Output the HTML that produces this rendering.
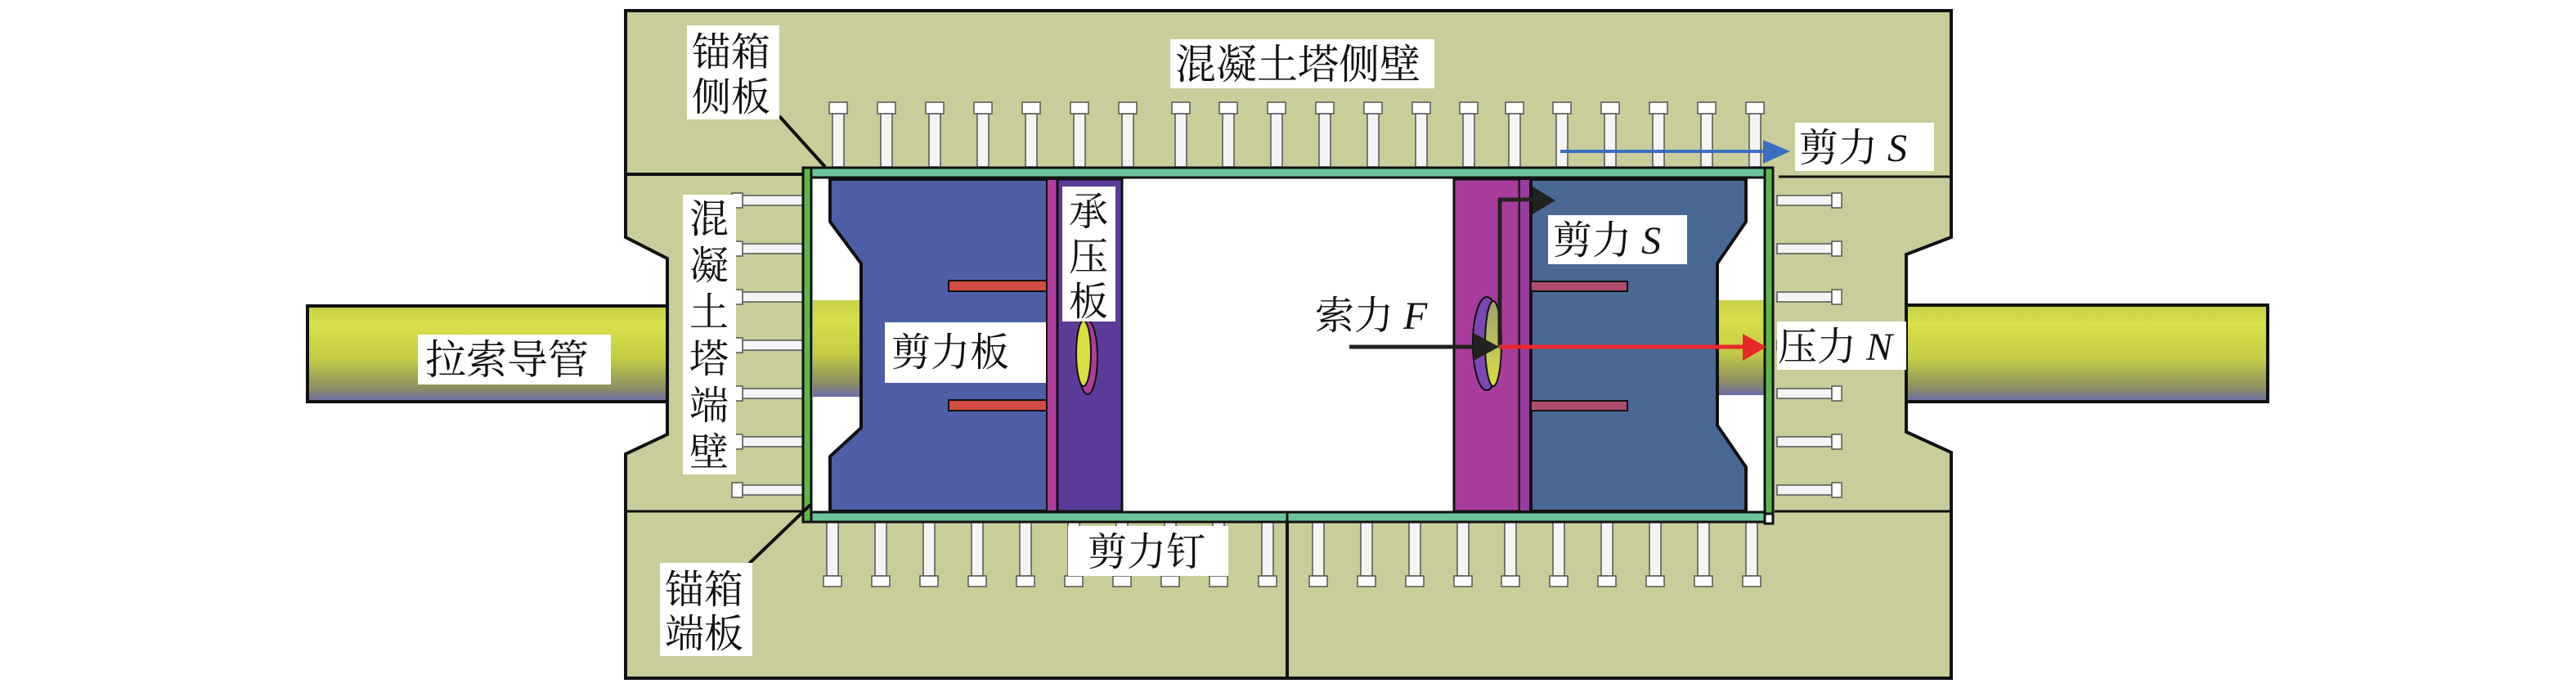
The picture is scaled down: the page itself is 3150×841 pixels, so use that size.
<!DOCTYPE html>
<html><head><meta charset="utf-8"><style>
html,body{margin:0;padding:0;background:#fff;}
svg{display:block}
text{font-family:"Liberation Serif","Noto Serif CJK SC",serif;fill:#111;}
</style></head><body>
<svg width="3150" height="841" viewBox="0 0 3150 841" xmlns="http://www.w3.org/2000/svg">
<defs>
<linearGradient id="tube" x1="0" y1="0" x2="0" y2="1">
<stop offset="0" stop-color="#c8cf48"/><stop offset="0.2" stop-color="#d8e04a"/><stop offset="0.55" stop-color="#c4cc44"/><stop offset="0.85" stop-color="#8e9060"/><stop offset="1" stop-color="#6a6aa8"/>
</linearGradient>
<linearGradient id="ell" x1="0" y1="0" x2="0" y2="1"><stop offset="0" stop-color="#a0a070"/><stop offset="1" stop-color="#d8e040"/></linearGradient>
<g id="stT"><rect x="-11" y="0" width="22" height="14" fill="#fff" stroke="#555" stroke-width="1.5"/><rect x="-7" y="14" width="14" height="65" fill="#f4f4f4" stroke="#555" stroke-width="1.5"/></g>
<g id="stB"><rect x="-7" y="0" width="14" height="66" fill="#f4f4f4" stroke="#555" stroke-width="1.5"/><rect x="-11" y="66" width="22" height="13" fill="#fff" stroke="#555" stroke-width="1.5"/></g>
<g id="stL"><rect x="0" y="-6" width="76" height="12" fill="#f4f4f4" stroke="#555" stroke-width="1.5"/><rect x="-13" y="-9" width="13" height="18" fill="#fff" stroke="#555" stroke-width="1.5"/></g>
<g id="stR"><rect x="0" y="-6" width="67" height="12" fill="#f4f4f4" stroke="#555" stroke-width="1.5"/><rect x="67" y="-9" width="12" height="18" fill="#fff" stroke="#555" stroke-width="1.5"/></g>
</defs>
<rect x="376" y="374" width="442" height="117" fill="url(#tube)" stroke="#111" stroke-width="4"/>
<rect x="2331" y="373" width="442" height="118" fill="url(#tube)" stroke="#111" stroke-width="4"/>
<path d="M765,13 L2386,13 L2386,290 L2331,311 L2331,528 L2386,553 L2386,829 L765,829 L765,555 L816,531 L816,316 L765,290 Z" fill="#c8cd9a" stroke="#111" stroke-width="4"/>
<line x1="765" y1="213" x2="983" y2="213" stroke="#111" stroke-width="4"/>
<line x1="2175" y1="216" x2="2386" y2="216" stroke="#111" stroke-width="3"/>
<line x1="765" y1="625" x2="983" y2="625" stroke="#111" stroke-width="3"/>
<line x1="2170" y1="625" x2="2386" y2="625" stroke="#111" stroke-width="3"/>
<line x1="1574" y1="638" x2="1574" y2="829" stroke="#111" stroke-width="4"/>
<g>
<use href="#stT" x="1025" y="125"/><use href="#stT" x="1084" y="125"/><use href="#stT" x="1143" y="125"/><use href="#stT" x="1202" y="125"/><use href="#stT" x="1261" y="125"/><use href="#stT" x="1320" y="125"/><use href="#stT" x="1379" y="125"/>
<use href="#stT" x="1444" y="125"/><use href="#stT" x="1502" y="125"/><use href="#stT" x="1561" y="125"/><use href="#stT" x="1620" y="125"/><use href="#stT" x="1679" y="125"/><use href="#stT" x="1738" y="125"/><use href="#stT" x="1796" y="125"/><use href="#stT" x="1852" y="125"/><use href="#stT" x="1910" y="125"/><use href="#stT" x="1969" y="125"/><use href="#stT" x="2028" y="125"/><use href="#stT" x="2087" y="125"/><use href="#stT" x="2146" y="125"/>
<use href="#stB" x="1018" y="638"/><use href="#stB" x="1077" y="638"/><use href="#stB" x="1136" y="638"/><use href="#stB" x="1195" y="638"/><use href="#stB" x="1254" y="638"/><use href="#stB" x="1313" y="638"/><use href="#stB" x="1372" y="638"/><use href="#stB" x="1431" y="638"/><use href="#stB" x="1490" y="638"/><use href="#stB" x="1550" y="638"/>
<use href="#stB" x="1612" y="638"/><use href="#stB" x="1671" y="638"/><use href="#stB" x="1730" y="638"/><use href="#stB" x="1789" y="638"/><use href="#stB" x="1847" y="638"/><use href="#stB" x="1906" y="638"/><use href="#stB" x="1965" y="638"/><use href="#stB" x="2024" y="638"/><use href="#stB" x="2083" y="638"/><use href="#stB" x="2142" y="638"/>
<use href="#stL" x="908" y="245"/><use href="#stL" x="908" y="304"/><use href="#stL" x="908" y="363"/><use href="#stL" x="908" y="422"/><use href="#stL" x="908" y="481"/><use href="#stL" x="908" y="540"/><use href="#stL" x="908" y="599"/>
<use href="#stR" x="2173" y="245"/><use href="#stR" x="2173" y="304"/><use href="#stR" x="2173" y="363"/><use href="#stR" x="2173" y="422"/><use href="#stR" x="2173" y="481"/><use href="#stR" x="2173" y="540"/><use href="#stR" x="2173" y="599"/>
</g>
<rect x="992" y="217" width="1166" height="409" fill="#fff" stroke="#111" stroke-width="3"/>
<rect x="994" y="367" width="60" height="118" fill="url(#tube)"/>
<rect x="2100" y="367" width="58" height="116" fill="url(#tube)"/>
<path d="M1015,219 L1282,219 L1282,625 L1015,625 L1015,558 L1053,523 L1053,322 L1015,271 Z" fill="#4e5ea8" stroke="#111" stroke-width="4"/>
<rect x="1280" y="219" width="13" height="406" fill="#b03c9c" stroke="#111" stroke-width="2"/>
<rect x="1293" y="219" width="79" height="406" fill="#5a3c98" stroke="#111" stroke-width="3"/>
<rect x="1160" y="343" width="120" height="13" fill="#d24c44" stroke="#111" stroke-width="2"/>
<rect x="1160" y="489" width="120" height="13" fill="#d24c44" stroke="#111" stroke-width="2"/>
<ellipse cx="1330" cy="437" rx="12" ry="45" fill="#b03c9c" stroke="#111" stroke-width="2"/>
<ellipse cx="1325" cy="432" rx="9" ry="40" fill="#d8e040" stroke="#111" stroke-width="2"/>
<rect x="1778" y="219" width="80" height="406" fill="#a83c9c" stroke="#111" stroke-width="3"/>
<rect x="1858" y="219" width="13" height="406" fill="#9a3ca0" stroke="#111" stroke-width="2"/>
<path d="M1872,219 L2135,219 L2135,271 L2100,322 L2100,520 L2135,571 L2135,625 L1872,625 Z" fill="#4a6894" stroke="#111" stroke-width="4"/>
<rect x="1872" y="344" width="118" height="12" fill="#b04c70" stroke="#111" stroke-width="2"/>
<rect x="1872" y="490" width="118" height="12" fill="#b04c70" stroke="#111" stroke-width="2"/>
<ellipse cx="1818" cy="420" rx="17" ry="57" fill="#7a48b0" stroke="#111" stroke-width="2"/>
<ellipse cx="1826" cy="420" rx="10" ry="52" fill="url(#ell)" stroke="#111" stroke-width="2"/>
<rect x="992" y="205" width="1166" height="12" fill="#6cc598" stroke="#111" stroke-width="3"/>
<rect x="992" y="626" width="1166" height="12" fill="#6cc598" stroke="#111" stroke-width="3"/>
<line x1="1574" y1="626" x2="1574" y2="638" stroke="#111" stroke-width="3"/>
<rect x="982" y="205" width="10" height="433" fill="#5cb848" stroke="#111" stroke-width="3"/>
<rect x="2158" y="205" width="10" height="425" fill="#5cb848" stroke="#111" stroke-width="3"/>
<rect x="2158" y="628" width="10" height="12" fill="#fff" stroke="#111" stroke-width="3"/>
<line x1="1908" y1="185" x2="2160" y2="185" stroke="#3a6fc0" stroke-width="4"/>
<polygon points="2156,171 2189,185 2156,200" fill="#3a6fc0"/>
<line x1="1650" y1="424" x2="1806" y2="424" stroke="#222" stroke-width="5"/>
<polygon points="1802,407 1833,424 1802,441" fill="#222"/>
<polyline points="1834,424 1834,244 1876,244" fill="none" stroke="#222" stroke-width="5"/>
<polygon points="1874,228 1902,245 1874,262" fill="#222"/>
<line x1="1833" y1="424" x2="2133" y2="424" stroke="#e82828" stroke-width="5"/>
<polygon points="2131,408 2160,424 2131,441" fill="#e82828"/>
<line x1="953" y1="142" x2="1009" y2="204" stroke="#111" stroke-width="4"/>
<line x1="916" y1="689" x2="991" y2="617" stroke="#111" stroke-width="4"/>
<g fill="#fff">
<rect x="840" y="31" width="113" height="115"/>
<rect x="1431" y="48" width="323" height="60"/>
<rect x="835" y="238" width="65" height="342"/>
<rect x="1299" y="228" width="65" height="165"/>
<rect x="1082" y="394" width="197" height="74"/>
<rect x="1893" y="263" width="170" height="60"/>
<rect x="2195" y="150" width="170" height="59"/>
<rect x="2173" y="393" width="158" height="59"/>
<rect x="1306" y="643" width="196" height="61"/>
<rect x="807" y="688" width="113" height="114"/>
<rect x="511" y="409" width="236" height="61"/>
</g>
<g font-size="48">
<text x="846" y="80">锚箱</text><text x="846" y="135">侧板</text>
<text x="1437" y="96" font-size="50">混凝土塔侧壁</text>
<text x="843" y="284">混</text><text x="843" y="341">凝</text><text x="843" y="398">土</text><text x="843" y="455">塔</text><text x="843" y="512">端</text><text x="843" y="569">壁</text>
<text x="1307" y="275">承</text><text x="1307" y="330">压</text><text x="1307" y="385">板</text>
<text x="1090" y="447">剪力板</text>
<text x="1608" y="402">索力 <tspan font-style="italic">F</tspan></text>
<text x="1899" y="310">剪力 <tspan font-style="italic">S</tspan></text>
<text x="2200" y="197">剪力 <tspan font-style="italic">S</tspan></text>
<text x="2174" y="440">压力 <tspan font-style="italic">N</tspan></text>
<text x="1330" y="691">剪力钉</text>
<text x="813" y="737">锚箱</text><text x="813" y="791">端板</text>
<text x="520" y="457" font-size="50">拉索导管</text>
</g>
</svg>
</body></html>
